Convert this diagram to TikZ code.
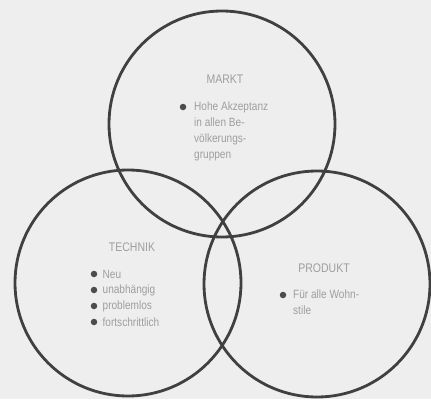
\documentclass[tikz,border=0pt]{standalone}
\usepackage{fontspec}
\setmainfont{Liberation Sans}[FakeStretch=0.84]
\usetikzlibrary{positioning}
\definecolor{paper}{HTML}{EEEEEE}
\colorlet{ringline}{black!75}
\colorlet{labeltext}{black!38}
\colorlet{dotfill}{black!70}

\begin{document}
\begin{tikzpicture}[x=1pt, y=-1pt,
    ring/.style={circle, draw=ringline, line width=2.8pt, minimum size=226pt, inner sep=0pt},
    title/.style={text=labeltext, font=\fontsize{12.5}{16}\selectfont},
    item/.style={text=labeltext, font=\fontsize{12}{16}\selectfont, inner sep=0pt, align=left},
    dot/.style={circle, fill=dotfill, minimum size=6.5pt, inner sep=0pt}]
    % Background
    \fill[paper] (0,0) rectangle (431,399);
    \useasboundingbox (0,0) rectangle (431,399);

    % The three circles
    \node[ring] (markt) at (222,124) {};
    \node[ring] (technik) at (128,283) {};
    \node[ring] (produkt) at (317,284) {};

    % Markt
    \node[title] (marktlabel) at (225,79) {MARKT};
    \node[dot] (m1) at (183,107) {};
    \node[item, anchor=north west] (m1text) at (194,101.5) {Hohe Akzeptanz\\in allen Be-\\völkerungs-\\gruppen};

    % Technik
    \node[title] (techniklabel) at (132,247) {TECHNIK};
    \foreach \word [count=\i] in {Neu, unabhängig, problemlos, fortschrittlich} {
        \node[dot] (t\i) at (94,258+16*\i) {};
        \node[item, right=5pt of t\i] (t\i text) {\word};
    }

    % Produkt
    \node[title] (produktlabel) at (324,268) {PRODUKT};
    \node[dot] (p1) at (283,295) {};
    \node[item, anchor=north west] (p1text) at (293,289.5) {Für alle Wohn-\\stile};
  \end{tikzpicture}
\end{document}
